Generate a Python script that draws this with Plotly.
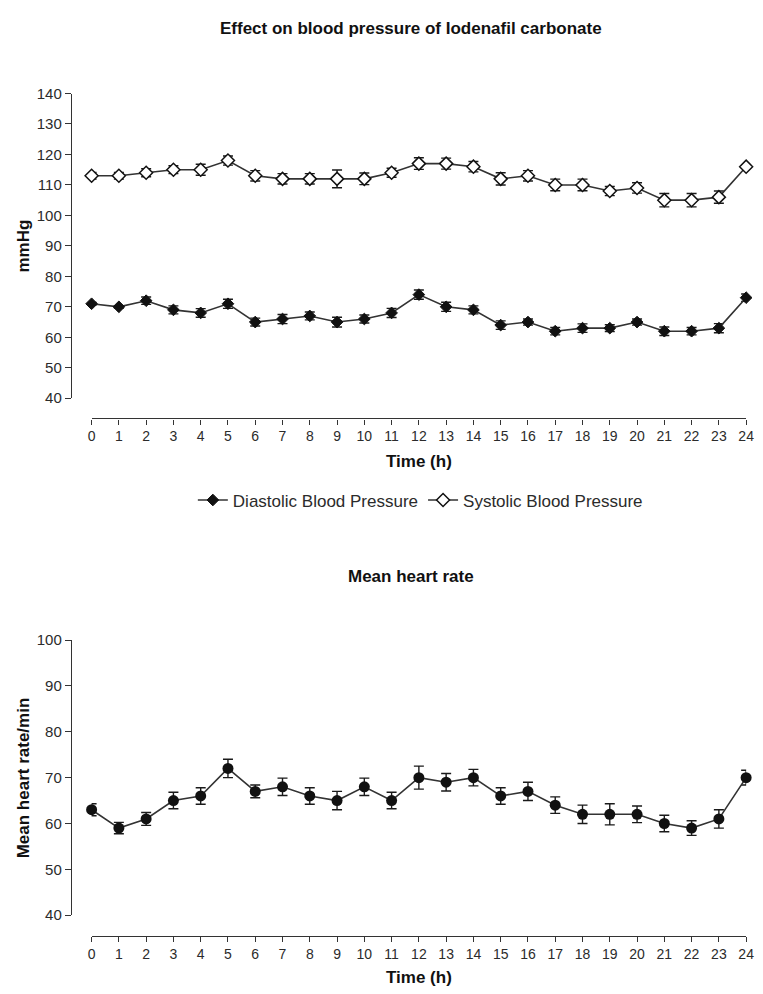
import plotly.graph_objects as go

# ---------------- data ----------------
hours = list(range(25))
x_tick_labels = [str(h) for h in hours]

diastolic = [71, 70, 72, 69, 68, 71, 65, 66, 67, 65, 66, 68, 74, 70, 69, 64, 65, 62, 63, 63, 65, 62, 62, 63, 73]
diastolic_err = [0.4, 0.4, 1.2, 1.3, 1.4, 1.5, 1.3, 1.5, 1.3, 1.6, 1.3, 1.5, 1.5, 1.5, 1.3, 1.4, 1.0, 1.2, 1.4, 1.1, 1.0, 1.4, 1.2, 1.5, 1.2]

systolic = [113, 113, 114, 115, 115, 118, 113, 112, 112, 112, 112, 114, 117, 117, 116, 112, 113, 110, 110, 108, 109, 105, 105, 106, 116]
systolic_err = [1.1, 1.1, 1.3, 1.3, 1.8, 1.5, 1.7, 1.7, 1.7, 2.9, 1.9, 1.5, 1.9, 1.8, 1.7, 2.0, 1.7, 1.9, 1.9, 1.5, 1.7, 2.2, 2.2, 2.0, 0.5]

heart_rate = [63, 59, 61, 65, 66, 72, 67, 68, 66, 65, 68, 65, 70, 69, 70, 66, 67, 64, 62, 62, 62, 60, 59, 61, 70]
heart_rate_err = [1.3, 1.25, 1.4, 1.8, 1.8, 2.0, 1.4, 1.9, 1.8, 2.0, 1.9, 1.8, 2.5, 1.9, 1.8, 1.8, 2.0, 1.8, 2.0, 2.3, 1.8, 1.8, 1.6, 2.0, 1.6]

bp_ticks = list(range(40, 141, 10))
hr_ticks = list(range(40, 101, 10))

# ---------------- layout helpers ----------------
W, H = 763, 994
FONT = "Liberation Sans, Arial, Helvetica, sans-serif"
TXT = "#2b2b2b"
LINE = "#333333"


def px_x(p):
    return p / W


def px_y(p):
    return (H - p) / H


fig = go.Figure()

err_style = dict(type="data", color="#1a1a1a", thickness=1.4, width=5, visible=True)

fig.add_trace(go.Scatter(
    x=hours, y=diastolic, name="Diastolic Blood Pressure",
    mode="lines+markers", xaxis="x", yaxis="y", cliponaxis=False,
    line=dict(color=LINE, width=1.6),
    marker=dict(symbol="diamond", size=9, color="#111111", line=dict(color="#111111", width=1)),
    error_y=dict(array=diastolic_err, **err_style),
))
fig.add_trace(go.Scatter(
    x=hours, y=systolic, name="Systolic Blood Pressure",
    mode="lines+markers", xaxis="x", yaxis="y", cliponaxis=False,
    line=dict(color=LINE, width=1.6),
    marker=dict(symbol="diamond", size=10, color="white", line=dict(color="#111111", width=1.5)),
    error_y=dict(array=systolic_err, **err_style),
))
fig.add_trace(go.Scatter(
    x=hours, y=heart_rate, name="Mean heart rate",
    mode="lines+markers", xaxis="x2", yaxis="y2", cliponaxis=False, showlegend=False,
    line=dict(color=LINE, width=1.6),
    marker=dict(symbol="circle", size=11, color="#111111"),
    error_y=dict(array=heart_rate_err, **err_style),
))

x_dom = [px_x(89), px_x(754)]
common_x = dict(
    range=[0, 24], domain=x_dom, anchor="free",
    tickmode="array", tickvals=hours, ticktext=x_tick_labels,
    ticks="outside", ticklen=5, tickwidth=1.3, tickcolor=LINE,
    showline=True, linecolor=LINE, linewidth=1.3,
    showgrid=False, zeroline=False,
    tickfont=dict(family=FONT, size=14, color=TXT),
)
common_y = dict(
    anchor="free", position=px_x(68),
    ticks="outside", ticklen=6, tickwidth=1.3, tickcolor=LINE,
    showline=True, linecolor=LINE, linewidth=1.3,
    showgrid=False, zeroline=False,
    tickfont=dict(family=FONT, size=15, color=TXT),
)

fig.update_layout(
    width=W, height=H,
    margin=dict(l=0, r=0, t=0, b=0),
    paper_bgcolor="white", plot_bgcolor="white",
    xaxis=dict(position=px_y(416.5), **common_x),
    yaxis=dict(range=[40, 140], domain=[px_y(396), px_y(86)], tickvals=bp_ticks, **common_y),
    xaxis2=dict(position=px_y(943), **common_x),
    yaxis2=dict(range=[40, 100], domain=[px_y(922), px_y(642)], tickvals=hr_ticks, **common_y),
    legend=dict(
        orientation="h", x=px_x(423), xanchor="center", y=px_y(500), yanchor="middle",
        font=dict(family=FONT, size=17, color=TXT), itemwidth=30,
        bgcolor="rgba(0,0,0,0)",
    ),
    showlegend=True,
)

TITLE_FONT = dict(family=FONT, size=17, color="#111111")
ann = []
ann.append(dict(text="<b>Effect on blood pressure of Iodenafil carbonate</b>", x=px_x(413), y=px_y(20),
                xref="paper", yref="paper", showarrow=False, xanchor="center", yanchor="middle",
                font=TITLE_FONT))
ann.append(dict(text="<b>Mean heart rate</b>", x=px_x(413), y=px_y(577),
                xref="paper", yref="paper", showarrow=False, xanchor="center", yanchor="middle",
                font=TITLE_FONT))
ann.append(dict(text="<b>Time (h)</b>", x=px_x(422), y=px_y(460),
                xref="paper", yref="paper", showarrow=False, xanchor="center", yanchor="middle",
                font=TITLE_FONT))
ann.append(dict(text="<b>Time (h)</b>", x=px_x(422), y=px_y(985),
                xref="paper", yref="paper", showarrow=False, xanchor="center", yanchor="middle",
                font=TITLE_FONT))
ann.append(dict(text="<b>mmHg</b>", x=px_x(20), y=px_y(241), textangle=-90,
                xref="paper", yref="paper", showarrow=False, xanchor="center", yanchor="middle",
                font=TITLE_FONT))
ann.append(dict(text="<b>Mean heart rate/min</b>", x=px_x(20), y=px_y(782), textangle=-90,
                xref="paper", yref="paper", showarrow=False, xanchor="center", yanchor="middle",
                font=TITLE_FONT))
fig.update_layout(annotations=ann)

fig.write_html("out.html")
